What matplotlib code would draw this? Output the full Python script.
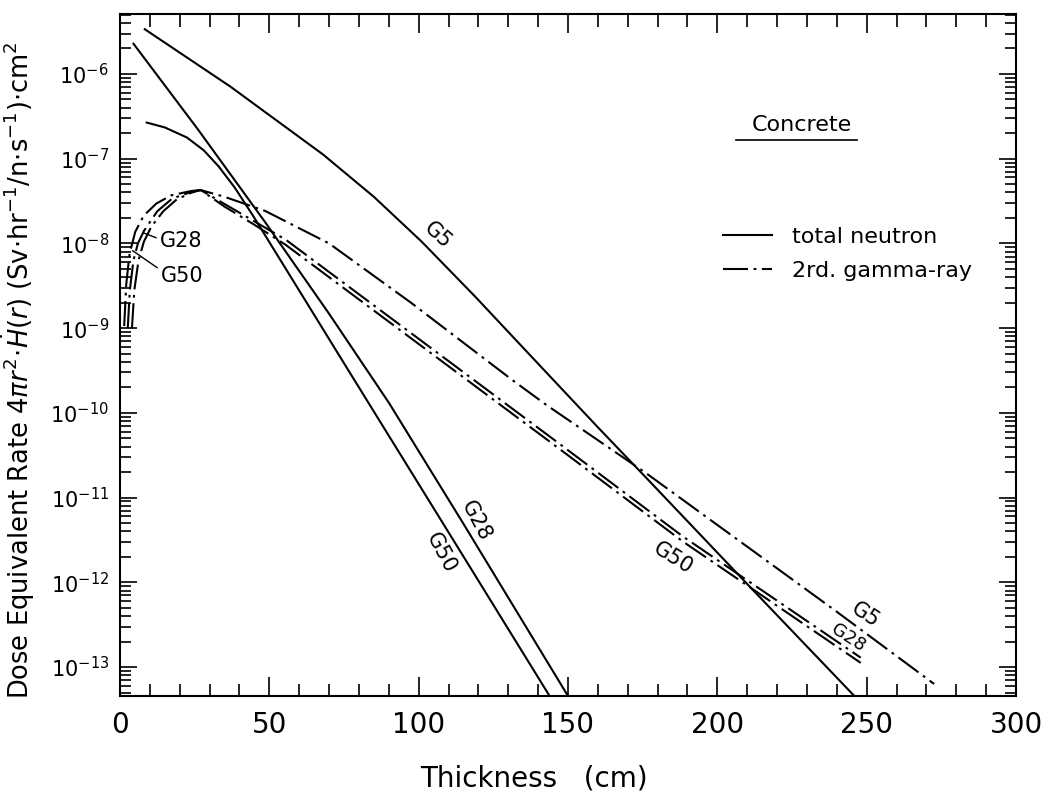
"""Dose equivalent rate vs. concrete thickness -- total neutron and secondary gamma-ray,
source groups G5 / G28 / G50 (log scale)."""
import matplotlib
matplotlib.use("Agg")
import matplotlib.pyplot as plt
from matplotlib.lines import Line2D
from matplotlib.ticker import LogLocator, MultipleLocator, NullFormatter

plt.rcParams["font.family"] = ["DejaVu Sans"]
plt.rcParams["lines.scale_dashes"] = False

# --- total neutron (solid) -- thickness [cm], dose rate
n_g5_x  = [8, 37, 68, 85, 101, 119, 140, 160, 176, 210, 248]
n_g5_y  = [3.43e-6, 7.08e-7, 1.12e-7, 3.55e-8, 1.05e-8, 2.34e-9, 3.80e-10, 6.76e-11,
           1.74e-11, 9.55e-13, 3.80e-14]
n_g28_x = [4.3, 26, 48.6, 70, 90, 115, 151]
n_g28_y = [2.33e-6, 2.24e-7, 1.78e-8, 1.48e-9, 1.32e-10, 4.90e-12, 3.98e-14]
n_g50_x = [8.6, 15, 22.4, 28, 33, 38.4, 44.3, 55, 74.4, 110, 144.5]
n_g50_y = [2.69e-7, 2.34e-7, 1.78e-7, 1.26e-7, 8.13e-8, 4.57e-8, 2.19e-8, 5.37e-9,
           4.17e-10, 3.89e-12, 4.17e-14]

# --- secondary gamma-ray (dash-dot)
g_g5_x  = [4.0, 4.8, 6.2, 8, 10.5, 14.5, 19, 24, 27, 35, 48.6, 70, 97.4, 131.5, 142.9,
           175.9, 239.7, 272.6]
g_g5_y  = [1.0e-9, 2.82e-9, 6.31e-9, 1.05e-8, 1.58e-8, 2.40e-8, 3.31e-8, 3.98e-8, 4.27e-8,
           3.55e-8, 2.42e-8, 1.0e-8, 2.0e-9, 2.42e-10, 1.23e-10, 1.97e-11, 4.57e-13, 6.31e-14]
g_g28_x = [2.6, 3.3, 4.5, 6.0, 8.05, 12.5, 17.5, 24, 27, 35, 45, 55.6, 147.3, 188.5, 248]
g_g28_y = [1.0e-9, 2.82e-9, 6.31e-9, 1.0e-8, 1.41e-8, 2.40e-8, 3.39e-8, 4.07e-8, 4.27e-8,
           2.92e-8, 1.82e-8, 1.10e-8, 4.27e-11, 3.47e-12, 1.29e-13]
g_g50_x = [1.4, 2.1, 3.2, 5.1, 7.95, 12.2, 17.2, 23.9, 27, 35, 45, 55.6, 147.3, 188.5, 248]
g_g50_y = [1.06e-9, 3.33e-9, 7.53e-9, 1.37e-8, 2.13e-8, 2.96e-8, 3.70e-8, 4.16e-8, 4.27e-8,
           2.72e-8, 1.66e-8, 9.55e-9, 3.72e-11, 3.02e-12, 1.12e-13]

DASHDOT = (0, (18, 4, 2, 4))
LW = 1.5

fig = plt.figure(figsize=(10.44, 7.94), dpi=100)
ax = fig.add_axes([120 / 1044, 1 - 696 / 794, 896 / 1044, 682 / 794])

for x, y in [(n_g5_x, n_g5_y), (n_g28_x, n_g28_y), (n_g50_x, n_g50_y)]:
    ax.plot(x, y, color="black", lw=LW, solid_capstyle="butt", solid_joinstyle="round")
for x, y in [(g_g5_x, g_g5_y), (g_g28_x, g_g28_y), (g_g50_x, g_g50_y)]:
    ax.plot(x, y, color="black", lw=LW, linestyle=DASHDOT)

ax.set_yscale("log")
ax.set_xlim(0, 300)
ax.set_ylim(10 ** -13.342, 10 ** -5.292)

ax.xaxis.set_major_locator(MultipleLocator(50))
ax.xaxis.set_minor_locator(MultipleLocator(10))
ax.yaxis.set_major_locator(LogLocator(base=10, numticks=20))
ax.yaxis.set_minor_locator(LogLocator(base=10, subs=range(2, 10), numticks=20))
ax.yaxis.set_minor_formatter(NullFormatter())

ax.tick_params(which="both", direction="in", top=True, right=True, width=1.2)
ax.tick_params(axis="x", which="major", length=14, labelsize=20, pad=11)
ax.tick_params(axis="x", which="minor", length=9)
ax.tick_params(axis="y", which="major", length=12, labelsize=15, pad=8)
ax.tick_params(axis="y", which="minor", length=8)
for sp in ax.spines.values():
    sp.set_linewidth(1.5)

ax.set_xlabel("Thickness   (cm)", fontsize=20)
ax.xaxis.set_label_coords(0.462, -0.100)
ax.set_ylabel(r"Dose Equivalent Rate $4\pi r^2\!\cdot\!\dot{H}(r)$ "
              r"(Sv$\cdot$hr$^{-1}$/n$\cdot$s$^{-1}$)$\cdot$cm$^2$", fontsize=18.5)
ax.yaxis.set_label_coords(-0.093, 0.478)

# curve labels
lab = dict(fontsize=15, ha="center", va="center")
ax.text(106.4, 10 ** -7.90, "G5", rotation=-42, **lab)
ax.text(119.2, 10 ** -11.275, "G28", rotation=-62, **lab)
ax.text(107.6, 10 ** -11.65, "G50", rotation=-62, **lab)
ax.text(185.2, 10 ** -11.72, "G50", rotation=-32, **lab)
ax.text(249.7, 10 ** -12.39, "G5", rotation=-33, **lab)
ax.text(243.7, 10 ** -12.66, "G28", rotation=-33, fontsize=13, ha="center", va="center")

lead = dict(arrowstyle="-", lw=1.0, color="black", shrinkA=1, shrinkB=0)
ax.annotate("G28", xy=(8.05, 10 ** -7.878), xytext=(13.5, 10 ** -7.976), fontsize=15,
            ha="left", va="center", arrowprops=dict(lead, relpos=(0, 0.6)))
ax.annotate("G50", xy=(4.2, 10 ** -8.085), xytext=(13.8, 10 ** -8.39), fontsize=15,
            ha="left", va="center", arrowprops=dict(lead, relpos=(0, 0.8)))

# material tag + legend
ax.text(0.761, 0.837, "Concrete", transform=ax.transAxes, fontsize=16, ha="center", va="center")
ax.plot([0.688, 0.822], [0.815, 0.815], transform=ax.transAxes, color="black", lw=1.2)

handles = [Line2D([], [], color="black", lw=LW),
           Line2D([], [], color="black", lw=LW, linestyle=DASHDOT)]
ax.legend(handles, ["total neutron", "2rd. gamma-ray"], loc="upper left",
          bbox_to_anchor=(0.673, 0.688), frameon=False, fontsize=16,
          handlelength=2.2, handletextpad=0.9, labelspacing=0.65,
          borderpad=0, borderaxespad=0)

fig.savefig("out.png", dpi=100)
